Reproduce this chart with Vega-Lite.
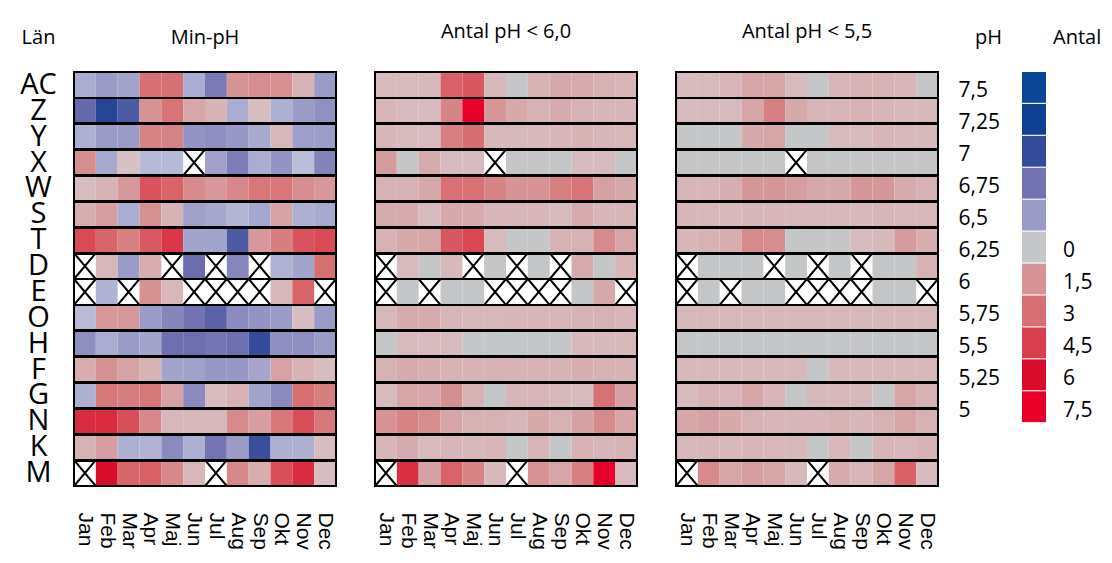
{
"$schema": "https://vega.github.io/schema/vega-lite/v6.json",
"background": "white",
"padding": {"left": 19, "top": 22, "right": 0, "bottom": 0},
"config": {
  "view": {"stroke": null},
  "font": "Open Sans",
  "title": {"font": "Open Sans", "fontSize": 20, "fontWeight": "normal", "color": "black", "offset": 29, "baseline": "alphabetic", "frame": "group"},
  "axis": {"labelColor": "black", "titleColor": "black", "ticks": false, "domain": false, "grid": false}
},
"resolve": {"scale": {"color": "independent"}},
"spacing": 16,
"datasets": {
"cells": [
{"l":"AC","m":"Jan","p":6.4,"a":0.36,"b":0.36},{"l":"AC","m":"Feb","p":6.5,"a":0.36,"b":0.36},{"l":"AC","m":"Mar","p":6.45,"a":0.4,"b":0.5},{"l":"AC","m":"Apr","p":5.75,"a":3.5,"b":1.0},{"l":"AC","m":"Maj","p":5.75,"a":3.75,"b":1.0},{"l":"AC","m":"Jun","p":6.4,"a":0.4,"b":0.36},{"l":"AC","m":"Jul","p":6.7,"a":0,"b":0},{"l":"AC","m":"Aug","p":6.0,"a":0.6,"b":0.5},{"l":"AC","m":"Sep","p":5.95,"a":0.87,"b":0.6},{"l":"AC","m":"Okt","p":5.97,"a":0.8,"b":0.6},{"l":"AC","m":"Nov","p":6.15,"a":0.6,"b":0.5},{"l":"AC","m":"Dec","p":6.5,"a":0.5,"b":0},
{"l":"Z","m":"Jan","p":6.8,"a":0.5,"b":0.36},{"l":"Z","m":"Feb","p":7.1,"a":0.36,"b":0.36},{"l":"Z","m":"Mar","p":6.9,"a":0.36,"b":0.36},{"l":"Z","m":"Apr","p":6.0,"a":2.17,"b":1.0},{"l":"Z","m":"Maj","p":5.78,"a":7.5,"b":2.33},{"l":"Z","m":"Jun","p":6.1,"a":1.4,"b":0.87},{"l":"Z","m":"Jul","p":6.15,"a":0.87,"b":0.5},{"l":"Z","m":"Aug","p":6.4,"a":0.6,"b":0.5},{"l":"Z","m":"Sep","p":6.2,"a":0.8,"b":0.6},{"l":"Z","m":"Okt","p":6.38,"a":0.6,"b":0.5},{"l":"Z","m":"Nov","p":6.5,"a":0.5,"b":0.4},{"l":"Z","m":"Dec","p":6.57,"a":0.5,"b":0.4},
{"l":"Y","m":"Jan","p":6.38,"a":0.5,"b":0},{"l":"Y","m":"Feb","p":6.5,"a":0.36,"b":0},{"l":"Y","m":"Mar","p":6.5,"a":0.36,"b":0},{"l":"Y","m":"Apr","p":5.88,"a":2.33,"b":0.87},{"l":"Y","m":"Maj","p":5.88,"a":3.05,"b":1.0},{"l":"Y","m":"Jun","p":6.55,"a":0.4,"b":0},{"l":"Y","m":"Jul","p":6.58,"a":0.4,"b":0},{"l":"Y","m":"Aug","p":6.52,"a":0.4,"b":0.36},{"l":"Y","m":"Sep","p":6.42,"a":0.5,"b":0.36},{"l":"Y","m":"Okt","p":6.17,"a":0.55,"b":0.5},{"l":"Y","m":"Nov","p":6.48,"a":0.5,"b":0.4},{"l":"Y","m":"Dec","p":6.49,"a":0.45,"b":0.4},
{"l":"X","m":"Jan","p":5.95,"a":1.3,"b":0},{"l":"X","m":"Feb","p":6.42,"a":0,"b":0},{"l":"X","m":"Mar","p":6.22,"a":0.8,"b":0},{"l":"X","m":"Apr","p":6.33,"a":0.36,"b":0},{"l":"X","m":"Maj","p":6.33,"a":0.36,"b":0},{"l":"X","m":"Jun","p":null,"a":null,"b":null},{"l":"X","m":"Jul","p":6.47,"a":0,"b":0},{"l":"X","m":"Aug","p":6.68,"a":0,"b":0},{"l":"X","m":"Sep","p":6.4,"a":0,"b":0},{"l":"X","m":"Okt","p":6.55,"a":0.36,"b":0},{"l":"X","m":"Nov","p":6.3,"a":0.36,"b":0},{"l":"X","m":"Dec","p":6.65,"a":0,"b":0},
{"l":"W","m":"Jan","p":6.2,"a":0.6,"b":0.5},{"l":"W","m":"Feb","p":6.15,"a":0.6,"b":0.5},{"l":"W","m":"Mar","p":6.02,"a":0.87,"b":0.7},{"l":"W","m":"Apr","p":5.6,"a":2.95,"b":1.4},{"l":"W","m":"Maj","p":5.68,"a":2.95,"b":1.4},{"l":"W","m":"Jun","p":5.93,"a":2.17,"b":1.2},{"l":"W","m":"Jul","p":6.02,"a":1.5,"b":0.87},{"l":"W","m":"Aug","p":5.92,"a":1.6,"b":0.87},{"l":"W","m":"Sep","p":5.8,"a":2.33,"b":1.4},{"l":"W","m":"Okt","p":5.8,"a":2.75,"b":1.4},{"l":"W","m":"Nov","p":5.95,"a":1.1,"b":0.8},{"l":"W","m":"Dec","p":6.02,"a":0.87,"b":0.6},
{"l":"S","m":"Jan","p":6.12,"a":0.8,"b":0.5},{"l":"S","m":"Feb","p":6.05,"a":0.8,"b":0.45},{"l":"S","m":"Mar","p":6.4,"a":0.36,"b":0.4},{"l":"S","m":"Apr","p":5.98,"a":0.87,"b":0.5},{"l":"S","m":"Maj","p":6.15,"a":0.8,"b":0.5},{"l":"S","m":"Jun","p":6.47,"a":0.5,"b":0.45},{"l":"S","m":"Jul","p":6.43,"a":0.5,"b":0.45},{"l":"S","m":"Aug","p":6.35,"a":0.5,"b":0.45},{"l":"S","m":"Sep","p":6.43,"a":0.36,"b":0.4},{"l":"S","m":"Okt","p":6.08,"a":0.8,"b":0.5},{"l":"S","m":"Nov","p":6.38,"a":0.5,"b":0.45},{"l":"S","m":"Dec","p":6.42,"a":0.5,"b":0.45},
{"l":"T","m":"Jan","p":5.55,"a":0.6,"b":0.5},{"l":"T","m":"Feb","p":5.7,"a":0.87,"b":0.6},{"l":"T","m":"Mar","p":5.87,"a":1.0,"b":0.75},{"l":"T","m":"Apr","p":5.63,"a":3.75,"b":1.9},{"l":"T","m":"Maj","p":5.45,"a":4.3,"b":1.75},{"l":"T","m":"Jun","p":6.45,"a":0.36,"b":0},{"l":"T","m":"Jul","p":6.45,"a":0,"b":0},{"l":"T","m":"Aug","p":6.9,"a":0,"b":0},{"l":"T","m":"Sep","p":6.02,"a":0.6,"b":0.36},{"l":"T","m":"Okt","p":5.85,"a":0.6,"b":0.4},{"l":"T","m":"Nov","p":5.6,"a":1.9,"b":1.3},{"l":"T","m":"Dec","p":5.55,"a":1.0,"b":0.75},
{"l":"D","m":"Jan","p":null,"a":null,"b":null},{"l":"D","m":"Feb","p":6.17,"a":0.36,"b":0},{"l":"D","m":"Mar","p":6.5,"a":0,"b":0},{"l":"D","m":"Apr","p":6.12,"a":0.4,"b":0},{"l":"D","m":"Maj","p":null,"a":null,"b":null},{"l":"D","m":"Jun","p":6.78,"a":0,"b":0},{"l":"D","m":"Jul","p":null,"a":null,"b":null},{"l":"D","m":"Aug","p":6.62,"a":0,"b":0},{"l":"D","m":"Sep","p":null,"a":null,"b":null},{"l":"D","m":"Okt","p":6.37,"a":0.8,"b":0},{"l":"D","m":"Nov","p":6.45,"a":0,"b":0},{"l":"D","m":"Dec","p":5.75,"a":0.5,"b":0.6},
{"l":"E","m":"Jan","p":null,"a":null,"b":null},{"l":"E","m":"Feb","p":6.37,"a":0,"b":0},{"l":"E","m":"Mar","p":null,"a":null,"b":null},{"l":"E","m":"Apr","p":5.98,"a":0,"b":0},{"l":"E","m":"Maj","p":6.17,"a":0,"b":0},{"l":"E","m":"Jun","p":null,"a":null,"b":null},{"l":"E","m":"Jul","p":null,"a":null,"b":null},{"l":"E","m":"Aug","p":null,"a":null,"b":null},{"l":"E","m":"Sep","p":null,"a":null,"b":null},{"l":"E","m":"Okt","p":6.17,"a":0,"b":0},{"l":"E","m":"Nov","p":5.68,"a":0.87,"b":0},{"l":"E","m":"Dec","p":null,"a":null,"b":null},
{"l":"O","m":"Jan","p":6.32,"a":0.4,"b":0.4},{"l":"O","m":"Feb","p":6.02,"a":0.8,"b":0.45},{"l":"O","m":"Mar","p":6.02,"a":0.8,"b":0.45},{"l":"O","m":"Apr","p":6.5,"a":0.5,"b":0.4},{"l":"O","m":"Maj","p":6.63,"a":0.45,"b":0.4},{"l":"O","m":"Jun","p":6.75,"a":0.45,"b":0.4},{"l":"O","m":"Jul","p":6.85,"a":0.5,"b":0.4},{"l":"O","m":"Aug","p":6.6,"a":0.5,"b":0.4},{"l":"O","m":"Sep","p":6.55,"a":0.5,"b":0.4},{"l":"O","m":"Okt","p":6.5,"a":0.6,"b":0.4},{"l":"O","m":"Nov","p":6.2,"a":0.6,"b":0.4},{"l":"O","m":"Dec","p":6.5,"a":0.5,"b":0.4},
{"l":"H","m":"Jan","p":6.58,"a":0,"b":0},{"l":"H","m":"Feb","p":6.4,"a":0.36,"b":0},{"l":"H","m":"Mar","p":6.5,"a":0.36,"b":0},{"l":"H","m":"Apr","p":6.45,"a":0.36,"b":0},{"l":"H","m":"Maj","p":6.77,"a":0,"b":0},{"l":"H","m":"Jun","p":6.77,"a":0,"b":0},{"l":"H","m":"Jul","p":6.73,"a":0,"b":0},{"l":"H","m":"Aug","p":6.77,"a":0,"b":0},{"l":"H","m":"Sep","p":7.0,"a":0,"b":0},{"l":"H","m":"Okt","p":6.58,"a":0.4,"b":0},{"l":"H","m":"Nov","p":6.58,"a":0.4,"b":0},{"l":"H","m":"Dec","p":6.5,"a":0.4,"b":0},
{"l":"F","m":"Jan","p":6.12,"a":0.6,"b":0.4},{"l":"F","m":"Feb","p":5.98,"a":0.8,"b":0.4},{"l":"F","m":"Mar","p":6.07,"a":0.7,"b":0.4},{"l":"F","m":"Apr","p":6.15,"a":0.55,"b":0.4},{"l":"F","m":"Maj","p":6.45,"a":0.55,"b":0.4},{"l":"F","m":"Jun","p":6.46,"a":0.55,"b":0.4},{"l":"F","m":"Jul","p":6.52,"a":0.55,"b":0},{"l":"F","m":"Aug","p":6.52,"a":0.55,"b":0.4},{"l":"F","m":"Sep","p":6.44,"a":0.55,"b":0.4},{"l":"F","m":"Okt","p":6.07,"a":0.7,"b":0.4},{"l":"F","m":"Nov","p":6.15,"a":0.6,"b":0.4},{"l":"F","m":"Dec","p":6.2,"a":0.55,"b":0.4},
{"l":"G","m":"Jan","p":6.38,"a":0.36,"b":0.36},{"l":"G","m":"Feb","p":5.8,"a":1.0,"b":0.6},{"l":"G","m":"Mar","p":5.85,"a":1.0,"b":0.5},{"l":"G","m":"Apr","p":5.8,"a":1.7,"b":1.0},{"l":"G","m":"Maj","p":6.07,"a":0.6,"b":0.5},{"l":"G","m":"Jun","p":6.6,"a":0,"b":0},{"l":"G","m":"Jul","p":6.2,"a":0.5,"b":0.4},{"l":"G","m":"Aug","p":6.15,"a":0.5,"b":0.4},{"l":"G","m":"Sep","p":6.45,"a":0.4,"b":0.4},{"l":"G","m":"Okt","p":6.6,"a":0.3,"b":0},{"l":"G","m":"Nov","p":5.75,"a":2.95,"b":1.0},{"l":"G","m":"Dec","p":5.85,"a":1.1,"b":0.6},
{"l":"N","m":"Jan","p":5.4,"a":1.6,"b":1.0},{"l":"N","m":"Feb","p":5.4,"a":2.17,"b":1.1},{"l":"N","m":"Mar","p":5.58,"a":1.75,"b":0.87},{"l":"N","m":"Apr","p":5.92,"a":1.0,"b":0.6},{"l":"N","m":"Maj","p":6.17,"a":0.6,"b":0.5},{"l":"N","m":"Jun","p":6.17,"a":0.6,"b":0.5},{"l":"N","m":"Jul","p":6.17,"a":0.5,"b":0.5},{"l":"N","m":"Aug","p":5.93,"a":0.87,"b":0.6},{"l":"N","m":"Sep","p":6.05,"a":0.6,"b":0.5},{"l":"N","m":"Okt","p":5.8,"a":1.1,"b":0.6},{"l":"N","m":"Nov","p":5.58,"a":1.9,"b":1.0},{"l":"N","m":"Dec","p":5.8,"a":1.0,"b":0.6},
{"l":"K","m":"Jan","p":6.15,"a":0.5,"b":0.4},{"l":"K","m":"Feb","p":6.05,"a":0.8,"b":0.5},{"l":"K","m":"Mar","p":6.38,"a":0.36,"b":0.4},{"l":"K","m":"Apr","p":6.36,"a":0.5,"b":0.5},{"l":"K","m":"Maj","p":6.6,"a":0.4,"b":0.45},{"l":"K","m":"Jun","p":6.38,"a":0.5,"b":0.45},{"l":"K","m":"Jul","p":6.73,"a":0,"b":0},{"l":"K","m":"Aug","p":6.5,"a":0.5,"b":0.45},{"l":"K","m":"Sep","p":6.97,"a":0,"b":0},{"l":"K","m":"Okt","p":6.38,"a":0.6,"b":0.5},{"l":"K","m":"Nov","p":6.38,"a":0.5,"b":0.45},{"l":"K","m":"Dec","p":6.2,"a":0.6,"b":0.6},
{"l":"M","m":"Jan","p":null,"a":null,"b":null},{"l":"M","m":"Feb","p":5.25,"a":5.0,"b":1.9},{"l":"M","m":"Mar","p":5.7,"a":1.1,"b":1.0},{"l":"M","m":"Apr","p":5.67,"a":3.4,"b":1.2},{"l":"M","m":"Maj","p":5.92,"a":2.17,"b":1.0},{"l":"M","m":"Jun","p":6.17,"a":0.4,"b":0.4},{"l":"M","m":"Jul","p":null,"a":null,"b":null},{"l":"M","m":"Aug","p":5.92,"a":1.6,"b":0.8},{"l":"M","m":"Sep","p":6.12,"a":1.0,"b":0.5},{"l":"M","m":"Okt","p":5.58,"a":2.33,"b":1.0},{"l":"M","m":"Nov","p":5.4,"a":7.5,"b":3.5},{"l":"M","m":"Dec","p":6.2,"a":0.36,"b":0.36}
],
"legend": [
{"lab":"7,5","v":7.5,"antal":null},{"lab":"7,25","v":7.25,"antal":null},{"lab":"7","v":7.0,"antal":null},{"lab":"6,75","v":6.75,"antal":null},{"lab":"6,5","v":6.5,"antal":null},{"lab":"6,25","v":6.25,"antal":"0"},{"lab":"6","v":6.0,"antal":"1,5"},{"lab":"5,75","v":5.75,"antal":"3"},{"lab":"5,5","v":5.5,"antal":"4,5"},{"lab":"5,25","v":5.25,"antal":"6"},{"lab":"5","v":5.0,"antal":"7,5"}
]
},
"hconcat": [
{
"spacing": 31,
"resolve": {"scale": {"color": "independent"}},
"hconcat": [
{
"width": 262, "height": 414,
"title": {"text": "Min-pH", "offset": -21},
"data": {"name": "cells"},
"layer": [
{"transform": [{"filter": "datum.p != null"}],
 "mark": {"type": "rect"},
 "encoding": {
  "x": {"field": "m", "type": "nominal", "scale": {"domain": ["Jan","Feb","Mar","Apr","Maj","Jun","Jul","Aug","Sep","Okt","Nov","Dec"], "paddingInner": 0, "paddingOuter": 0}, "axis": {"title": null, "labelAngle": 90, "labelFont": "Liberation Sans", "labelFontSize": 21, "labelPadding": 26}},
  "y": {"field": "l", "type": "nominal", "scale": {"domain": ["AC","Z","Y","X","W","S","T","D","E","O","H","F","G","N","K","M"], "paddingInner": 0, "paddingOuter": 0}, "axis": {"title": "Län", "titleAngle": 0, "titleX": -36, "titleY": -29, "titleAlign": "center", "titleBaseline": "alphabetic", "titleFont": "Open Sans", "titleFontSize": 20, "titleFontWeight": "normal", "labelFont": "Open Sans", "labelFontSize": 29, "labelAlign": "center", "labelBaseline": "middle", "labelPadding": 36}},
  "color": {"field": "p", "type": "quantitative", "legend": null, "scale": {"interpolate": "rgb", "domain": [5,5.25,5.5,5.75,6,6.23,6.25,6.27,6.5,6.75,7,7.25,7.5], "range": ["#e80029","#d80d2c","#d9404f","#d77072","#d69496","#d7c3c6","#c5c6c8","#c0c3dc","#9b9bc8","#7372b2","#344a9b","#0f3f90","#0b4595"]}}
 }},
{"transform": [{"filter": "datum.p == null"}],
 "mark": {"type": "point", "shape": "M-0.84,-1L0.84,1M-0.84,1L0.84,-1", "size": 671, "filled": false, "color": "black", "strokeWidth": 2, "opacity": 1},
 "encoding": {"x": {"field": "m", "type": "nominal"}, "y": {"field": "l", "type": "nominal"}}},
{"mark": {"type": "rect", "fill": null, "stroke": "black", "strokeWidth": 2},
 "encoding": {"y": {"field": "l", "type": "nominal"}}}
]
},
{
"width": 262, "height": 414,
"title": {"text": "Antal pH < 6,0"},
"data": {"name": "cells"},
"layer": [
{"transform": [{"filter": "datum.a != null"}],
 "mark": {"type": "rect"},
 "encoding": {
  "x": {"field": "m", "type": "nominal", "scale": {"domain": ["Jan","Feb","Mar","Apr","Maj","Jun","Jul","Aug","Sep","Okt","Nov","Dec"], "paddingInner": 0, "paddingOuter": 0}, "axis": {"title": null, "labelAngle": 90, "labelFont": "Liberation Sans", "labelFontSize": 21, "labelPadding": 26}},
  "y": {"field": "l", "type": "nominal", "scale": {"domain": ["AC","Z","Y","X","W","S","T","D","E","O","H","F","G","N","K","M"], "paddingInner": 0, "paddingOuter": 0}, "axis": null},
  "color": {"field": "a", "type": "quantitative", "legend": null, "scale": {"interpolate": "rgb", "domain": [0,0.05,1.5,3,4.5,6,7.5], "range": ["#c5c6c8","#d7c4c7","#d69496","#d77072","#d9404f","#d80d2c","#e80029"]}}
 }},
{"transform": [{"filter": "datum.a == null"}],
 "mark": {"type": "point", "shape": "M-0.84,-1L0.84,1M-0.84,1L0.84,-1", "size": 671, "filled": false, "color": "black", "strokeWidth": 2, "opacity": 1},
 "encoding": {"x": {"field": "m", "type": "nominal"}, "y": {"field": "l", "type": "nominal"}}},
{"mark": {"type": "rect", "fill": null, "stroke": "black", "strokeWidth": 2},
 "encoding": {"y": {"field": "l", "type": "nominal"}}}
]
},
{
"width": 262, "height": 414,
"title": {"text": "Antal pH < 5,5"},
"data": {"name": "cells"},
"layer": [
{"transform": [{"filter": "datum.b != null"}],
 "mark": {"type": "rect"},
 "encoding": {
  "x": {"field": "m", "type": "nominal", "scale": {"domain": ["Jan","Feb","Mar","Apr","Maj","Jun","Jul","Aug","Sep","Okt","Nov","Dec"], "paddingInner": 0, "paddingOuter": 0}, "axis": {"title": null, "labelAngle": 90, "labelFont": "Liberation Sans", "labelFontSize": 21, "labelPadding": 26}},
  "y": {"field": "l", "type": "nominal", "scale": {"domain": ["AC","Z","Y","X","W","S","T","D","E","O","H","F","G","N","K","M"], "paddingInner": 0, "paddingOuter": 0}, "axis": null},
  "color": {"field": "b", "type": "quantitative", "legend": null, "scale": {"interpolate": "rgb", "domain": [0,0.05,1.5,3,4.5,6,7.5], "range": ["#c5c6c8","#d7c4c7","#d69496","#d77072","#d9404f","#d80d2c","#e80029"]}}
 }},
{"transform": [{"filter": "datum.b == null"}],
 "mark": {"type": "point", "shape": "M-0.84,-1L0.84,1M-0.84,1L0.84,-1", "size": 671, "filled": false, "color": "black", "strokeWidth": 2, "opacity": 1},
 "encoding": {"x": {"field": "m", "type": "nominal"}, "y": {"field": "l", "type": "nominal"}}},
{"mark": {"type": "rect", "fill": null, "stroke": "black", "strokeWidth": 2},
 "encoding": {"y": {"field": "l", "type": "nominal"}}}
]
}
]
},
{
"width": 24, "height": 414,
"title": {"text": "Antal", "anchor": "start", "dx": 31, "offset": -21},
"data": {"name": "legend"},
"layer": [
{"mark": {"type": "rect", "stroke": "white", "strokeWidth": 0},
 "encoding": {
  "y": {"field": "lab", "type": "nominal", "sort": null, "scale": {"domain": ["7,5","7,25","7","6,75","6,5","6,25","6","5,75","5,5","5,25","5"], "paddingInner": 0.035, "paddingOuter": 1.59, "align": 0}, "axis": {"title": "pH", "titleAngle": 0, "titleX": -34, "titleY": -29, "titleAlign": "center", "titleBaseline": "alphabetic", "titleFont": "Open Sans", "titleFontSize": 20, "titleFontWeight": "normal", "labelFont": "Open Sans", "labelFontSize": 21, "labelAlign": "left", "labelBaseline": "middle", "labelPadding": 64, "labelOffset": 4}},
  "color": {"field": "v", "type": "quantitative", "legend": null, "scale": {"interpolate": "rgb", "domain": [5,5.25,5.5,5.75,6,6.23,6.25,6.27,6.5,6.75,7,7.25,7.5], "range": ["#e80029","#d80d2c","#d9404f","#d77072","#d69496","#d7c3c6","#c5c6c8","#c0c3dc","#9b9bc8","#7372b2","#344a9b","#0f3f90","#0b4595"]}}
 }},
{"transform": [{"filter": "datum.antal != null"}],
 "mark": {"type": "text", "align": "left", "baseline": "middle", "dx": 29, "dy": 4, "font": "Open Sans", "fontSize": 21, "color": "black"},
 "encoding": {"y": {"field": "lab", "type": "nominal"}, "text": {"field": "antal", "type": "nominal"}}}
]
}
]
}
